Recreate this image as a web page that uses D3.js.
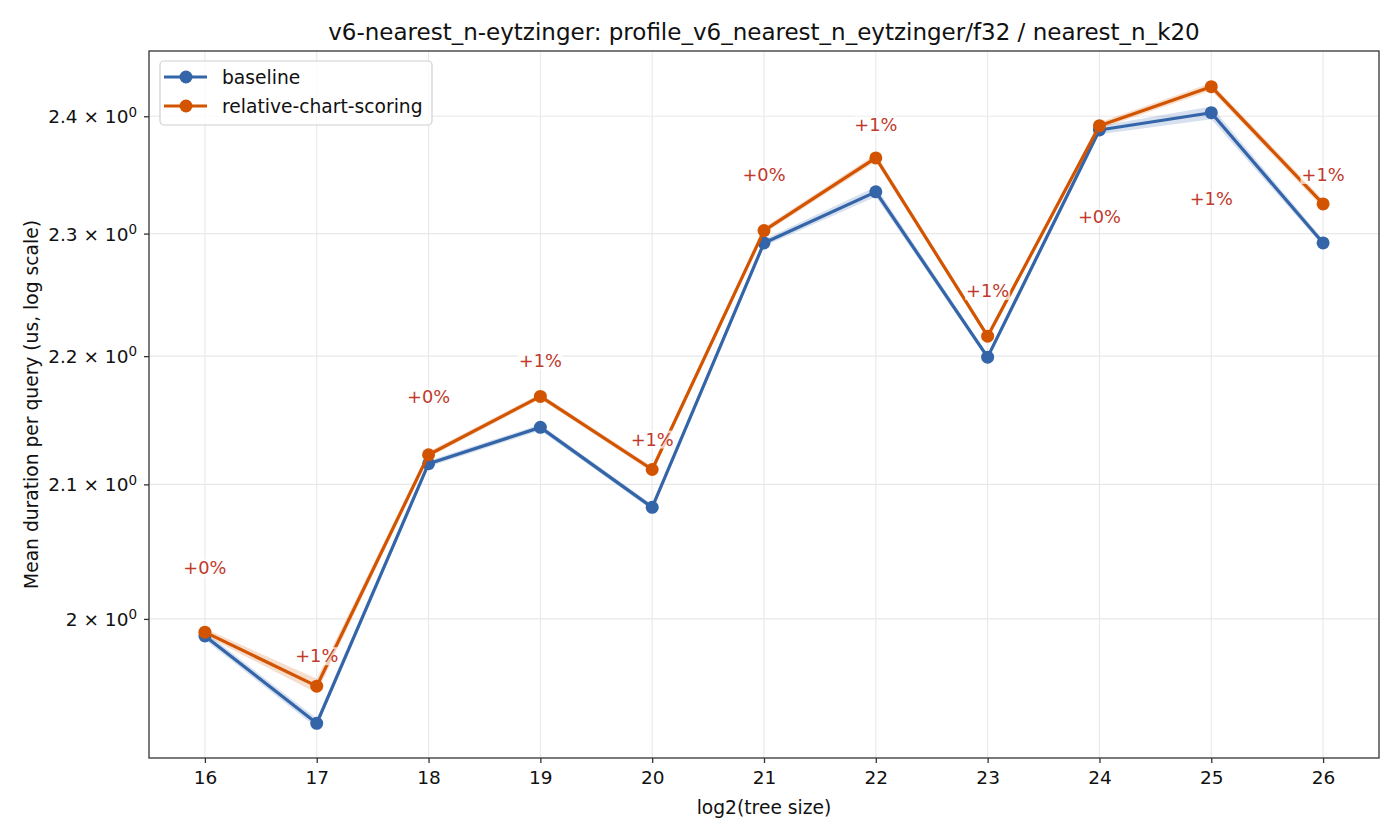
<!DOCTYPE html>
<html>
<head>
<meta charset="utf-8">
<script src="https://cdn.jsdelivr.net/npm/d3@7"></script>
<style>
  html, body { margin: 0; padding: 0; background: #fff; }
  svg { display: block; font-family: "DejaVu Sans", sans-serif; }
</style>
</head>
<body>
<svg id="chart" width="1400" height="840"></svg>
<script>
// ---- data ----
const treeSizes = [16, 17, 18, 19, 20, 21, 22, 23, 24, 25, 26];
const baseline = [1.9877, 1.9257, 2.1158, 2.1439, 2.0826, 2.2922, 2.3351, 2.1992, 2.3881, 2.4031, 2.2922];
const baselineLo = [1.9850, 1.9225, 2.1135, 2.1415, 2.0805, 2.2895, 2.3310, 2.1970, 2.3845, 2.3975, 2.2895];
const baselineHi = [1.9905, 1.9290, 2.1180, 2.1462, 2.0848, 2.2950, 2.3395, 2.2015, 2.3915, 2.4085, 2.2950];
const relative = [1.9904, 1.9518, 2.1227, 2.1681, 2.1114, 2.3025, 2.3640, 2.2160, 2.3918, 2.4259, 2.3249];
const relativeLo = [1.9880, 1.9470, 2.1205, 2.1660, 2.1092, 2.3000, 2.3610, 2.2138, 2.3890, 2.4225, 2.3215];
const relativeHi = [1.9930, 1.9570, 2.1250, 2.1702, 2.1136, 2.3050, 2.3672, 2.2182, 2.3948, 2.4292, 2.3285];
const deltaLabels = ["+0%", "+1%", "+0%", "+1%", "+1%", "+0%", "+1%", "+1%", "+0%", "+1%", "+1%"];
const deltaLabelAt = [2.0373, 1.9733, 2.1681, 2.1960, 2.1346, 2.3497, 2.3922, 2.2529, 2.3142, 2.3294, 2.3497];
const yTickValues = [2.0, 2.1, 2.2, 2.3, 2.4];
const yTickMantissa = ["2", "2.1", "2.2", "2.3", "2.4"];
const seriesNames = ["baseline", "relative-chart-scoring"];
const titleText = "v6-nearest_n-eytzinger: profile_v6_nearest_n_eytzinger/f32 / nearest_n_k20";
const xLabelText = "log2(tree size)";
const yLabelText = "Mean duration per query (us, log scale)";

// ---- layout ----
const plot = { left: 149, right: 1379, top: 51, bottom: 758 };
const colors = { baseline: "#3465a8", relative: "#d35400", delta: "#c0392b" };
const fs = { tick: 18.5, label: 18.7, legend: 18.7, title: 23, delta: 17.8 };

const svg = d3.select("#chart");
const x = d3.scaleLinear().domain([15.5, 26.5]).range([plot.left, plot.right]);
const y = d3.scaleLog().domain([1.9016, 2.4575]).range([plot.bottom, plot.top]);

// grid
const grid = svg.append("g");
grid.selectAll("line.vx").data(treeSizes).join("line")
  .attr("x1", d => x(d)).attr("x2", d => x(d))
  .attr("y1", plot.top).attr("y2", plot.bottom)
  .attr("stroke", "#e8e8e8").attr("stroke-width", 1.1);
grid.selectAll("line.hy").data(yTickValues).join("line")
  .attr("x1", plot.left).attr("x2", plot.right)
  .attr("y1", d => y(d)).attr("y2", d => y(d))
  .attr("stroke", "#e8e8e8").attr("stroke-width", 1.1);

// axes
const xAxis = d3.axisBottom(x).tickValues(treeSizes).tickFormat(d3.format("d")).tickSize(5).tickPadding(8);
const gx = svg.append("g").attr("transform", `translate(0,${plot.bottom})`).call(xAxis);
gx.select(".domain").remove();
gx.selectAll(".tick line").attr("stroke", "#333").attr("stroke-width", 1.3);
gx.selectAll(".tick text").attr("font-size", fs.tick).attr("fill", "#111").attr("font-family", "DejaVu Sans");

const yAxis = d3.axisLeft(y).tickValues(yTickValues).tickFormat("").tickSize(5);
const gy = svg.append("g").attr("transform", `translate(${plot.left},0)`).call(yAxis);
gy.select(".domain").remove();
gy.selectAll(".tick line").attr("stroke", "#333").attr("stroke-width", 1.3);
gy.selectAll(".tick").each(function(d, i) {
  const t = d3.select(this).append("text")
    .attr("x", -12).attr("dy", "0.35em")
    .attr("text-anchor", "end").attr("fill", "#111")
    .attr("font-size", fs.tick).attr("font-family", "DejaVu Sans");
  t.append("tspan").text(yTickMantissa[i] + " \u00d7 10");
  t.append("tspan").attr("dy", "-0.5em").attr("font-size", 13.5).text("0");
});

// bands
function band(lo, hi) {
  return d3.area().x((d, i) => x(treeSizes[i])).y0((d, i) => y(lo[i])).y1((d, i) => y(hi[i]))(treeSizes);
}
svg.append("path").attr("d", band(baselineLo, baselineHi)).attr("fill", colors.baseline).attr("opacity", 0.2);
svg.append("path").attr("d", band(relativeLo, relativeHi)).attr("fill", colors.relative).attr("opacity", 0.2);

// lines
const line = d3.line().x((d, i) => x(treeSizes[i])).y(d => y(d));
[[baseline, colors.baseline], [relative, colors.relative]].forEach(([vals, c]) => {
  svg.append("path").attr("d", line(vals)).attr("fill", "none")
    .attr("stroke", c).attr("stroke-width", 3.2).attr("stroke-linejoin", "round");
  svg.append("g").selectAll("circle").data(vals).join("circle")
    .attr("cx", (d, i) => x(treeSizes[i])).attr("cy", d => y(d)).attr("r", 6.5).attr("fill", c);
});

// delta labels with white boxes
const lab = svg.append("g");
treeSizes.forEach((t, i) => {
  const g = lab.append("g");
  const rect = g.append("rect").attr("fill", "#fff").attr("opacity", 0.7);
  const tx = g.append("text").attr("x", x(t)).attr("y", y(deltaLabelAt[i])).attr("dy", "0.35em")
    .attr("text-anchor", "middle").attr("font-size", fs.delta).attr("fill", colors.delta).text(deltaLabels[i]);
  const bb = tx.node().getBBox();
  rect.attr("x", bb.x - 1).attr("y", bb.y + 2).attr("width", bb.width + 2).attr("height", bb.height - 3);
});

// frame
svg.append("rect").attr("x", plot.left).attr("y", plot.top)
  .attr("width", plot.right - plot.left).attr("height", plot.bottom - plot.top)
  .attr("fill", "none").attr("stroke", "#333").attr("stroke-width", 1.3);

// legend
const lg = svg.append("g");
lg.append("rect").attr("x", 160).attr("y", 61).attr("width", 272).attr("height", 64).attr("rx", 4)
  .attr("fill", "#fff").attr("fill-opacity", 0.8).attr("stroke", "#d0d0d0").attr("stroke-width", 1.2);
[[seriesNames[0], colors.baseline], [seriesNames[1], colors.relative]].forEach(([n, c], i) => {
  const yy = 77 + i * 29;
  lg.append("line").attr("x1", 164).attr("x2", 207).attr("y1", yy).attr("y2", yy).attr("stroke", c).attr("stroke-width", 3.2);
  lg.append("circle").attr("cx", 186).attr("cy", yy).attr("r", 6.5).attr("fill", c);
  lg.append("text").attr("x", 222).attr("y", yy).attr("dy", "0.35em").attr("font-size", fs.legend).attr("fill", "#111").text(n);
});

// titles
svg.append("text").attr("x", (plot.left + plot.right) / 2).attr("y", 32).attr("dy", "0.35em")
  .attr("text-anchor", "middle").attr("font-size", fs.title).attr("fill", "#111").text(titleText);
svg.append("text").attr("x", (plot.left + plot.right) / 2).attr("y", 807).attr("dy", "0.35em")
  .attr("text-anchor", "middle").attr("font-size", fs.label).attr("fill", "#111").text(xLabelText);
svg.append("text").attr("transform", `translate(31,${(plot.top + plot.bottom) / 2}) rotate(-90)`).attr("dy", "0.35em")
  .attr("text-anchor", "middle").attr("font-size", fs.label).attr("fill", "#111").text(yLabelText);
</script>
</body>
</html>
